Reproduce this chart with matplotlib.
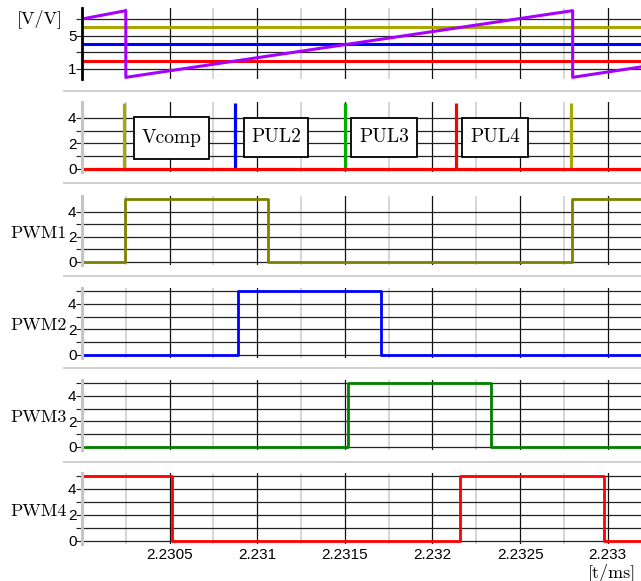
import matplotlib
matplotlib.use('agg')
import matplotlib.pyplot as plt
from matplotlib.lines import Line2D
from matplotlib.patches import Rectangle
from matplotlib.transforms import IdentityTransform
from matplotlib.ticker import FixedLocator, FixedFormatter, MultipleLocator, NullFormatter

# top panel: carrier sawtooth and the three compare levels
saw_t = [2.23, 2.23025, 2.23025, 2.2328, 2.2328, 2.23319]
saw_v = [7.0, 8.0, 0.0, 8.0, 0.0, 1.25]
level_olive = 6.0
level_blue = 4.0
level_red = 2.0

# second panel: trigger pulses
pulse_t = [2.23024, 2.230873, 2.231501, 2.232135, 2.23279]
pulse_c = ['#a8a800', '#0000ff', '#00b000', '#ff0000', '#a8a800']
pulse_h = 5.15
pulse_names = ['Vcomp', 'PUL2', 'PUL3', 'PUL4']

# PWM outputs (edges, steps-post)
pwm1_t = [2.23, 2.230243, 2.23106, 2.232795, 2.23319]
pwm1_v = [0, 5, 0, 5, 5]
pwm2_t = [2.23, 2.230892, 2.231705, 2.23319]
pwm2_v = [0, 5, 0, 0]
pwm3_t = [2.23, 2.23152, 2.232335, 2.23319]
pwm3_v = [0, 5, 0, 0]
pwm4_t = [2.23, 2.230514, 2.232158, 2.23298, 2.23319]
pwm4_v = [5, 0, 5, 0, 0]

xtick_pos = [2.2305, 2.231, 2.2315, 2.232, 2.2325, 2.233]
xtick_lab = ['2.2305', '2.231', '2.2315', '2.232', '2.2325', '2.233']

W, H = 641, 581
XMIN, XMAX = 2.23, 2.23319
SERIF = 'cmr10'

plt.rcParams['font.family'] = ['Liberation Sans Narrow', 'Liberation Sans', 'DejaVu Sans']

fig = plt.figure(figsize=(W / 100, H / 100), dpi=100)


def add_panel(px_a, val_a, px_b, val_b, lo, hi):
    # place an axes so that val_a sits at pixel row px_a and val_b at px_b
    u = (px_a - px_b) / (val_b - val_a)
    bot = px_a + (val_a - lo) * u
    top = px_a - (hi - val_a) * u
    ax = fig.add_axes([82 / W, 1 - bot / H, (W - 82) / W, (bot - top) / H])
    ax.set_xlim(XMIN, XMAX)
    ax.set_ylim(lo, hi)
    for s in ['top', 'right', 'bottom']:
        ax.spines[s].set_visible(False)
    ax.spines['left'].set_color('#c4c4c4')
    ax.spines['left'].set_linewidth(2.2)
    ax.xaxis.set_major_locator(FixedLocator(xtick_pos))
    ax.xaxis.set_minor_locator(MultipleLocator(0.00025))
    ax.xaxis.set_major_formatter(NullFormatter())
    ax.tick_params(axis='x', which='both', length=0)
    ax.tick_params(axis='y', which='both', length=4, width=0.8, pad=0,
                   labelsize=11, color='#222222')
    ax.grid(axis='x', which='major', color='#111111', lw=0.9)
    ax.grid(axis='x', which='minor', color='#cccccc', lw=1.1)
    ax.grid(axis='y', which='both', color='#222222', lw=0.9)
    ax.set_axisbelow(True)
    return ax


def pwm_axes(y0, y5, minor_y, label):
    ax = add_panel(y0, 0, y5, 5, -0.2, 5.2)
    ax.set_yticks([0, 2, 4])
    ax.set_yticks(minor_y, minor=True)
    if label:
        ax.annotate(label, xy=(0, 2.3), xycoords=('axes fraction', 'data'),
                    xytext=(-11, 0), textcoords='offset points',
                    ha='right', va='center', fontsize=13, family=SERIF)
    return ax


# panel 1
ax1 = add_panel(69, 1, 19, 7, -0.2, 8.3)
ax1.set_yticks([1, 5])
ax1.set_yticks([3, 7], minor=True)
ax1.spines['left'].set_color('black')
ax1.spines['left'].set_linewidth(2.0)
ax1.axhline(level_olive, color='#a8a800', lw=2.2)
ax1.axhline(level_blue, color='#0000ff', lw=2.2)
ax1.axhline(level_red, color='#ff0000', lw=2.2)
ax1.plot(saw_t, saw_v, color='#a600ff', lw=2.2)
ax1.annotate('[V/V]', xy=(0, 7.1), xycoords=('axes fraction', 'data'),
             xytext=(-14, 0), textcoords='offset points',
             ha='right', va='center', fontsize=13, family=SERIF)

# panel 2
ax2 = pwm_axes(169, 105, [1, 3], None)
for t, c in zip(pulse_t, pulse_c):
    ax2.vlines(t, 0, pulse_h, color=c, lw=2.3)
ax2.axhline(0, color='#ff0000', lw=2.3)

# label boxes, given in figure pixels (left, top, right, bottom)
boxes = [(134, 117, 209, 159), (244, 118, 308, 157),
         (351, 118, 417, 157), (462, 118, 528, 157)]
ident = IdentityTransform()
for (l, t, r, b), name in zip(boxes, pulse_names):
    fig.add_artist(Rectangle((l, H - b), r - l, b - t, transform=ident,
                             fc='white', ec='black', lw=1.3, zorder=5))
    fig.text((l + r) / 2 / W, 1 - (t + b) / 2 / H, name, ha='center',
             va='center', fontsize=14, family=SERIF, zorder=6)

# PWM panels
ax3 = pwm_axes(262, 199, [1, 3], 'PWM1')
ax3.plot(pwm1_t, pwm1_v, drawstyle='steps-post', color='#808000', lw=2.0)

ax4 = pwm_axes(355, 291, [1, 3, 5], 'PWM2')
ax4.plot(pwm2_t, pwm2_v, drawstyle='steps-post', color='#0000ff', lw=2.0)

ax5 = pwm_axes(447, 383, [1, 3, 5], 'PWM3')
ax5.plot(pwm3_t, pwm3_v, drawstyle='steps-post', color='#008000', lw=2.0)

ax6 = pwm_axes(541, 476, [1, 3, 5], 'PWM4')
ax6.plot(pwm4_t, pwm4_v, drawstyle='steps-post', color='#ff0000', lw=2.0)
ax6.xaxis.set_major_formatter(FixedFormatter(xtick_lab))
ax6.tick_params(axis='x', which='major', labelsize=11, pad=3)

fig.text(636 / W, 1 - 573 / H, '[t/ms]', ha='right', va='center',
         fontsize=13, family=SERIF)

# light separators between the stacked panels
for yp in [91, 183, 276, 368, 462]:
    fig.add_artist(Line2D([64 / W, 1], [1 - yp / H] * 2, color='#d0d0d0',
                          lw=1.4, transform=fig.transFigure))

fig.savefig('out.png', dpi=100)
